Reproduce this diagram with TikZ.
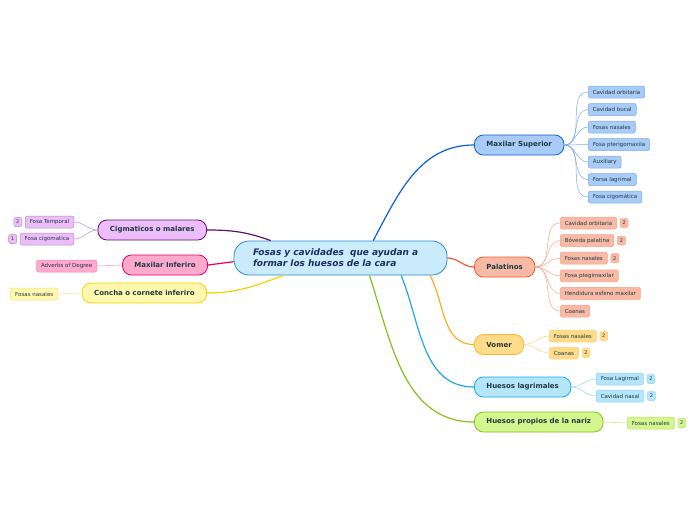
\documentclass[tikz,border=0pt]{standalone}
\usepackage{fontspec}
\setmainfont{DejaVu Sans}
\usetikzlibrary{positioning}

\definecolor{ink}{HTML}{1D3B40}
\definecolor{navy}{HTML}{1B2F5E}
\definecolor{cfill}{HTML}{C9EBFB}
\definecolor{cline}{HTML}{2B8BD2}
\definecolor{msfill}{HTML}{A9CBF7}
\definecolor{msline}{HTML}{0A5FD0}
\definecolor{mstwig}{HTML}{7CA9EF}
\definecolor{palfill}{HTML}{F8B9A5}
\definecolor{palline}{HTML}{F25A2B}
\definecolor{paltwig}{HTML}{F6A48C}
\definecolor{vomfill}{HTML}{FFDB8A}
\definecolor{vomline}{HTML}{FBB829}
\definecolor{vomtwig}{HTML}{FCD27E}
\definecolor{lagfill}{HTML}{B3E5FB}
\definecolor{lagline}{HTML}{1EA7EA}
\definecolor{lagtwig}{HTML}{8FD3F3}
\definecolor{narfill}{HTML}{D5F58E}
\definecolor{narline}{HTML}{82C11B}
\definecolor{nartwig}{HTML}{B7E06A}
\definecolor{cigfill}{HTML}{ECBDF9}
\definecolor{cigline}{HTML}{5E0F6C}
\definecolor{cigtwig}{HTML}{B68BC8}
\definecolor{minffill}{HTML}{FFA9CC}
\definecolor{minfline}{HTML}{E5006C}
\definecolor{minftwig}{HTML}{F283B3}
\definecolor{confill}{HTML}{FFF8AE}
\definecolor{conline}{HTML}{EED400}
\definecolor{contwig}{HTML}{F2E27A}

\begin{document}
\begin{tikzpicture}[x=1pt,y=-1pt,
    central/.style={draw=cline,fill=cfill,line width=0.8pt,rounded corners=15pt,
      minimum height=34pt,text width=175pt,inner xsep=19pt,align=left,text=navy,
      font=\fontsize{9}{11}\selectfont\bfseries\itshape},
    topic/.style={draw,line width=0.8pt,rounded corners=9pt,minimum height=20pt,
      inner xsep=12pt,text=ink,font=\fontsize{7}{8}\selectfont\bfseries},
    leaf/.style={draw,line width=0.5pt,rounded corners=2pt,minimum height=12pt,
      inner xsep=4.5pt,inner ysep=1pt,text=ink,font=\fontsize{5.5}{6}\selectfont},
    badge/.style={leaf,inner xsep=1.5pt,minimum width=8pt,minimum height=9pt,
      font=\fontsize{5}{6}\selectfont},
    branch/.style={line width=1.2pt},
    twig/.style={line width=0.5pt}]
  \useasboundingbox (0,0) rectangle (696,520);

  \node[central] (fc) at (340.5,258) {Fosas y cavidades \ que ayudan a\\formar los huesos de la cara};

  % right side
  \node[topic,draw=msline,fill=msfill,anchor=west]   (ms)  at (474,145) {Maxilar Superior};
  \node[topic,draw=palline,fill=palfill,anchor=west] (pal) at (474,267) {Palatinos};
  \node[topic,draw=vomline,fill=vomfill,anchor=west] (vom) at (474,344.5) {Vomer};
  \node[topic,draw=lagline,fill=lagfill,anchor=west] (lag) at (474,387) {Huesos lagrimales};
  \node[topic,draw=narline,fill=narfill,anchor=west] (nar) at (474,422) {Huesos propios de la nariz};

  % left side
  \node[topic,draw=cigline,fill=cigfill,anchor=east]   (cig)  at (207,230) {Cigmaticos o malares};
  \node[topic,draw=minfline,fill=minffill,anchor=east] (minf) at (208,265) {Maxilar Inferiro};
  \node[topic,draw=conline,fill=confill,anchor=east]   (con)  at (207,293) {Concha o cornete inferiro};

  \draw[branch,msline]  (fc.28)  to[out=62,in=180] (ms.west);
  \draw[branch,palline] (fc.east) to[out=0,in=180] (pal.west);
  \draw[branch,vomline!80!orange] (fc.-11.4) to[out=-62,in=180] (vom.west);
  \draw[branch,lagline] (fc.-16.7) to[out=-68,in=180] (lag.west);
  \draw[branch,narline] (fc.-31.7) to[out=-72,in=180] (nar.west);
  \draw[branch,cigline] (cig.east) to[out=0,in=160] (fc.166);
  \draw[branch,minfline] (minf.east) -- (fc.182);
  \draw[branch,conline] (con.east) to[out=0,in=200] (fc.197.6);

  % Maxilar Superior
  \foreach \t [count=\i] in {Cavidad orbitaria,Cavidad bucal,Fosas nasales,Fosa pterigomaxila,Auxiliary,Forsa lagrimal,Fosa cigomática} {
    \node[leaf,draw=mstwig,fill=msfill,anchor=west] (ms\i) at (588,{92+17.5*(\i-1)}) {\t};
    \draw[twig,mstwig] (ms.east) to[out=0,in=180] (ms\i.west);
  }

  % Palatinos
  \foreach \t [count=\i] in {Cavidad orbitaria,Bóveda palatina,Fosas nasales,Fosa ptegimaxilar,Hendidura esfeno maxilar,Coanas} {
    \node[leaf,draw=paltwig,fill=palfill,anchor=west] (pal\i) at (560,{223+17.6*(\i-1)}) {\t};
    \draw[twig,paltwig] (pal.east) to[out=0,in=180] (pal\i.west);
  }
  \foreach \i in {1,2,3}
    \node[badge,draw=paltwig,fill=palfill,right=3pt of pal\i] {2};

  % Vomer
  \node[leaf,draw=vomtwig,fill=vomfill,anchor=west] (vom1) at (549,336) {Fosas nasales};
  \node[leaf,draw=vomtwig,fill=vomfill,anchor=west] (vom2) at (549,353) {Coanas};
  \foreach \i in {1,2} {
    \draw[twig,vomtwig] (vom.east) to[out=0,in=180] (vom\i.west);
    \node[badge,draw=vomtwig,fill=vomfill,right=3pt of vom\i] {2};
  }

  % Huesos lagrimales
  \node[leaf,draw=lagtwig,fill=lagfill,anchor=west] (lag1) at (596,379) {Fosa Lagirmal};
  \node[leaf,draw=lagtwig,fill=lagfill,anchor=west] (lag2) at (596,396) {Cavidad nasal};
  \foreach \i in {1,2} {
    \draw[twig,lagtwig] (lag.east) to[out=0,in=180] (lag\i.west);
    \node[badge,draw=lagtwig,fill=lagfill,right=3pt of lag\i] {2};
  }

  % Huesos propios de la nariz
  \node[leaf,draw=nartwig,fill=narfill,anchor=west] (nar1) at (627,423) {Fosas nasales};
  \draw[twig,nartwig] (nar.east) to[out=0,in=180] (nar1.west);
  \node[badge,draw=nartwig,fill=narfill,right=3pt of nar1] {2};

  % Cigmaticos o malares
  \node[leaf,draw=cigtwig,fill=cigfill,anchor=east] (cig1) at (74,222) {Fosa Temporal};
  \node[leaf,draw=cigtwig,fill=cigfill,anchor=east] (cig2) at (74,239) {Fosa cigomatica};
  \draw[twig,cigtwig] (cig.west) to[out=180,in=0] (cig1.east);
  \draw[twig,cigtwig] (cig.west) to[out=180,in=0] (cig2.east);
  \node[badge,draw=cigtwig,fill=cigfill,left=3pt of cig1] {2};
  \node[badge,draw=cigtwig,fill=cigfill,left=3pt of cig2] {1};

  % Maxilar Inferiro
  \node[leaf,draw=minftwig,fill=minffill,anchor=east] (minf1) at (97,266) {Adverbs of Degree};
  \draw[twig,minftwig] (minf.west) to[out=180,in=0] (minf1.east);

  % Concha o cornete inferiro
  \node[leaf,draw=contwig,fill=confill,anchor=east] (con1) at (58,294) {Fosas nasales};
  \draw[twig,contwig] (con.west) to[out=180,in=0] (con1.east);
\end{tikzpicture}
\end{document}
